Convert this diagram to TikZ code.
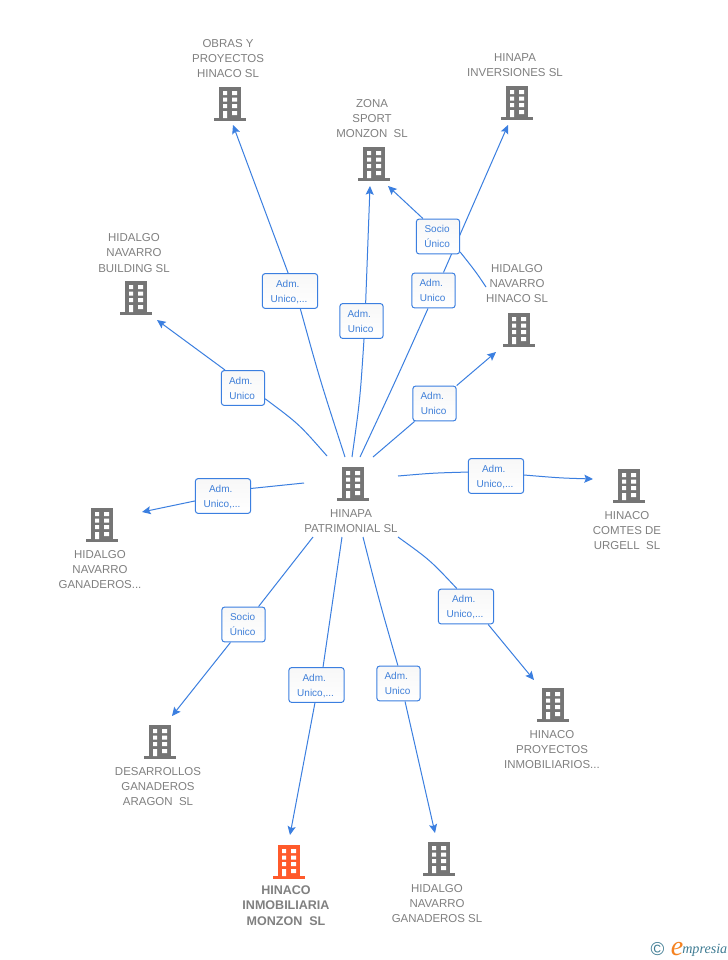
\documentclass[tikz,border=0pt]{standalone}
\usepackage{fontspec}
\setmainfont{Liberation Sans}
\newfontfamily\logofont{Liberation Serif}
\usetikzlibrary{arrows.meta}
\definecolor{edgeblue}{HTML}{3B7FE0}
\definecolor{boxtext}{HTML}{3F7FD8}
\definecolor{labelgray}{HTML}{808080}
\definecolor{iconedge}{HTML}{757575}
\definecolor{iconred}{HTML}{FF5A2B}
\definecolor{logoteal}{HTML}{3F7C93}
\definecolor{logoorange}{HTML}{F58220}
\newcommand{\admline}{\rule{0pt}{7.2pt}Adm.\kern3.4pt}
\newcommand{\uniline}{Unico\kern1.4pt\rule[-1.5pt]{0pt}{1.5pt}}
\newcommand{\unimore}{Unico,...\kern1.4pt\rule[-1.5pt]{0pt}{1.5pt}}
\newcommand{\socline}{\rule{0pt}{7.2pt}Socio\kern1.4pt}
\newcommand{\uniqline}{Único\kern1.4pt\rule[-1.5pt]{0pt}{1.5pt}}
\tikzset{
  edge/.style={draw=edgeblue,line width=.75pt},
  arrowedge/.style={edge,-{Stealth[length=6.5pt,width=6pt,inset=1.2pt]}},
  relbox/.style={draw=edgeblue,top color=black!3,bottom color=white,rounded corners=2.2pt,line width=.75pt,inner sep=0pt,
    minimum height=26.2pt,text=boxtext,font=\fontsize{7.5}{11.2}\selectfont,align=center},
  narrow/.style={relbox,minimum width=32.5pt},
  wide/.style={relbox,minimum width=41.5pt},
  lab/.style={text=labelgray,font=\fontsize{8.6}{11.4}\selectfont,align=center,inner sep=0pt},
  bldg/.pic={
    \fill[pic actions] (-11,-17) rectangle (11,14);
    \fill[pic actions] (-16,14) rectangle (16,17);
    \fill[white] (-7,-13) rectangle (-3,-9) (2,-13) rectangle (7,-9)
                 (-7,-6.5) rectangle (-3,-2.5) (2,-6.5) rectangle (7,-2.5)
                 (-7,0) rectangle (-3,4) (2,0) rectangle (7,4)
                 (-7,7) rectangle (-3,14) (2,7) rectangle (7,11);
  }
}
\begin{document}
\begin{tikzpicture}[x=.75pt,y=-.75pt]
\useasboundingbox[fill=white] (0,0) rectangle (728,960);

% buildings
\foreach \p in {(230,104),(517,103),(374,164),(519,330),(136,298),(353,484),(629,486),(102,525),(160,742),(553,705),(439,859)}
  \pic[fill=iconedge] at \p {bldg};
\pic[fill=iconred] at (289,862) {bldg};

% labels
\node[lab] (tobras) at (228,58.5) {OBRAS Y\\PROYECTOS\\HINACO SL};
\node[lab] (tinv) at (515,65) {HINAPA\\INVERSIONES SL};
\node[lab] (tzona) at (372,118.5) {ZONA\\SPORT\\MONZON\ \ SL};
\node[lab] (thnh) at (517,283.5) {HIDALGO\\NAVARRO\\HINACO SL};
\node[lab] (tbuild) at (134,253) {HIDALGO\\NAVARRO\\BUILDING SL};
\node[lab] (tcentral) at (351,521) {HINAPA\\PATRIMONIAL SL};
\node[lab] (tcomtes) at (627,530.5) {HINACO\\COMTES DE\\URGELL\ \ SL};
\node[lab] (tgan) at (100,569.5) {HIDALGO\\NAVARRO\\GANADEROS...};
\node[lab] (tdes) at (158,786.5) {DESARROLLOS\\GANADEROS\\ARAGON\ \ SL};
\node[lab] (tpro) at (552,749.5) {HINACO\\PROYECTOS\\INMOBILIARIOS...};
\node[lab,font=\fontsize{9.4}{11.4}\selectfont\bfseries] (tmon) at (286,905.5) {HINACO\\INMOBILIARIA\\MONZON\ \ SL};
\node[lab] (tgsl) at (437,903.5) {HIDALGO\\NAVARRO\\GANADEROS SL};

% connector end points
\coordinate (s1) at (345,457); \coordinate (e1) at (233,125);
\coordinate (s2) at (352,457); \coordinate (e2) at (370,186);
\coordinate (s3) at (360,457); \coordinate (e3) at (508,125);
\coordinate (s4) at (373,457); \coordinate (e4) at (496,352);
\coordinate (s5) at (398,476); \coordinate (e5) at (593,479);
\coordinate (s6) at (398,537); \coordinate (e6) at (534,680);
\coordinate (s7) at (363,537); \coordinate (e7) at (435,833);
\coordinate (s8) at (342,537); \coordinate (e8) at (290,835);
\coordinate (s9) at (313,537); \coordinate (e9) at (172,716);
\coordinate (s10) at (304,483); \coordinate (e10) at (142,512);
\coordinate (s11) at (327,456); \coordinate (e11) at (157,320);
\coordinate (s12) at (486,287); \coordinate (e12) at (388,186);

% relation boxes
\node[wide] (b1) at (290,291) {\admline\\\unimore};
\node[narrow] (b2) at (361.5,321) {\admline\\\uniline};
\node[narrow] (b3) at (433.5,290.5) {\admline\\\uniline};
\node[narrow] (b4) at (434.5,403.5) {\admline\\\uniline};
\node[wide] (b5) at (496,476) {\admline\\\unimore};
\node[wide] (b6) at (466,606.5) {\admline\\\unimore};
\node[narrow] (b7) at (398.5,683.5) {\admline\\\uniline};
\node[wide] (b8) at (316.5,685) {\admline\\\unimore};
\node[narrow] (b9) at (243.5,624.5) {\socline\\\uniqline};
\node[wide] (b10) at (223,496) {\admline\\\unimore};
\node[narrow] (b11) at (243,388) {\admline\\\uniline};

% connectors
\draw[edge] (s1) .. controls (320,380) .. (b1.-60);
\draw[arrowedge] (b1.96) -- (e1);
\draw[edge] (s2) .. controls (360,400) .. (b2.-82);
\draw[arrowedge] (b2.77) -- (e2);
\draw[edge] (s3) .. controls (396,380) .. (b3.-107);
\draw[arrowedge] (b3.61.5) -- (e3);
\draw[edge] (s4) -- (b4.222);
\draw[arrowedge] (b4.39) -- (e4);
\draw[edge] (s5) .. controls (433,473) .. (b5.172);
\draw[arrowedge] (b5.2) .. controls (560,478) .. (e5);
\draw[edge] (s6) .. controls (430,560) .. (b6.117);
\draw[arrowedge] (b6.-39.5) -- (e6);
\draw[edge] (s7) .. controls (379,600) .. (b7.92);
\draw[arrowedge] (b7.-70) -- (e7);
\draw[edge] (s8) .. controls (333.5,602) .. (b8.70);
\draw[arrowedge] (b8.-95) -- (e8);
\draw[edge] (s9) -- (b9.50);
\draw[arrowedge] (b9.234.5) -- (e9);
\draw[edge] (s10) .. controls (278,485) .. (b10.15.4);
\draw[arrowedge] (b10.190) -- (e10);
\draw[edge] (s11) .. controls (299,424) .. (b11.-26.6);
\draw[arrowedge] (b11.135) -- (e11);

% box that sits over the Inversiones line
\node[narrow] (b12) at (438,236.5) {\socline\\\uniqline};
\draw[edge] (s12) .. controls (476,272) .. (b12.-35);
\draw[arrowedge] (b12.130) -- (e12);

% logo
\node[inner sep=0pt,text=logoteal,font=\fontsize{14}{14}\selectfont] (lc) at (657.5,949) {©};
\node[inner sep=0pt,text=logoorange,font=\logofont\itshape\fontsize{21}{21}\selectfont] (le) at (677,949) {e};
\node[inner sep=0pt,text=logoteal,anchor=west,font=\logofont\itshape\fontsize{10.6}{10}\selectfont] (lm) at (682,950) {mpresia};
\end{tikzpicture}
\end{document}
